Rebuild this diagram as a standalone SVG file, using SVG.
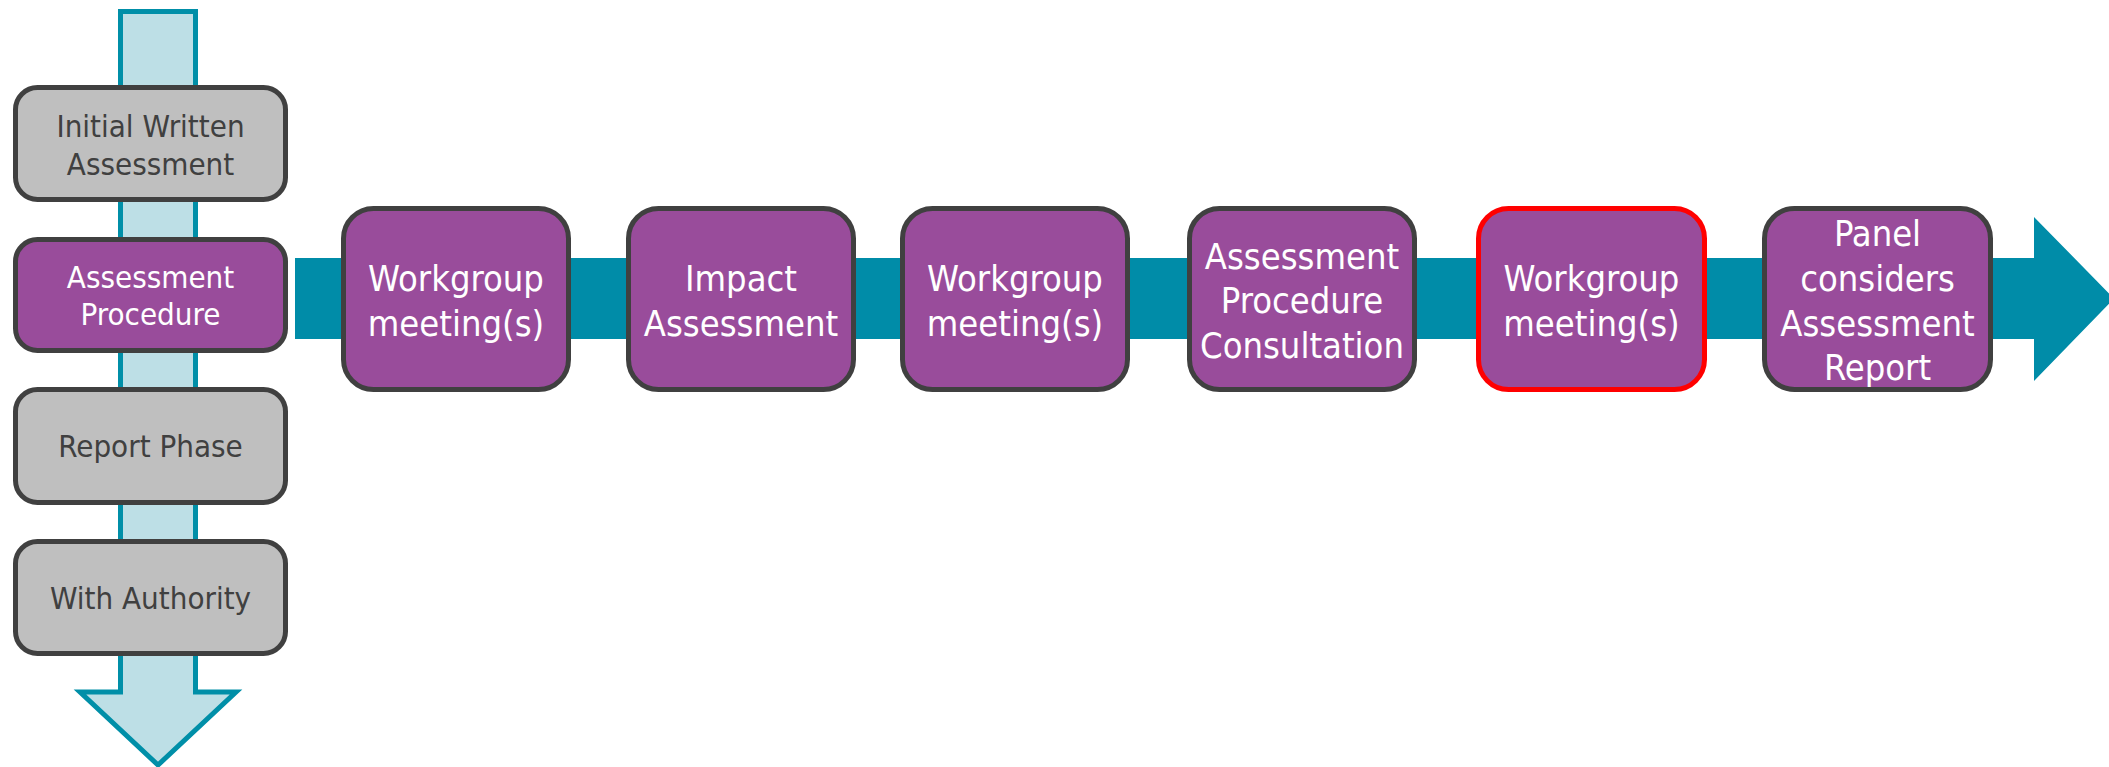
<svg xmlns="http://www.w3.org/2000/svg" width="2109" height="767" viewBox="0 0 2109 767">
  <style>
    .phase { fill: #bfbfbf; stroke: #404040; stroke-width: 5; }
    .phase-active { fill: #994c9b; stroke: #404040; stroke-width: 5; }
    .step { fill: #994c9b; stroke: #404040; stroke-width: 5; }
    .step-current { fill: #994c9b; stroke: #ff0000; stroke-width: 5; }
    .t { font-family: "DejaVu Sans Condensed", "DejaVu Sans", Tahoma, sans-serif; text-anchor: middle; }
    .t-dark { fill: #404040; font-size: 31px; }
    .t-light-s { fill: #ffffff; font-size: 31px; }
    .t-light { fill: #ffffff; font-size: 36px; }
  </style>

  <!-- connectors: vertical phase arrow and horizontal process arrow -->
  <g id="connectors">
    <path d="M120.5,11.5 H195.5 V692 H236 L158,765 L80,692 H120.5 Z" fill="#bddfe6" stroke="#008fa8" stroke-width="5" stroke-linejoin="miter"/>
    <path d="M295,258 H2034 V217 L2114,298.5 L2034,381 V339 H295 Z" fill="#008ca8"/>
  </g>

  <!-- phase column -->
  <g id="phase-initial">
    <rect class="phase" x="15.5" y="87.5" width="270" height="112" rx="22"/>
    <text class="t t-dark" x="150.5" y="137">Initial Written</text>
    <text class="t t-dark" x="150.5" y="175">Assessment</text>
  </g>
  <g id="phase-procedure">
    <rect class="phase-active" x="15.5" y="239.5" width="270" height="111" rx="22"/>
    <text class="t t-light-s" x="150.5" y="288">Assessment</text>
    <text class="t t-light-s" x="150.5" y="325">Procedure</text>
  </g>
  <g id="phase-report">
    <rect class="phase" x="15.5" y="389.5" width="270" height="113" rx="22"/>
    <text class="t t-dark" x="150.5" y="457">Report Phase</text>
  </g>
  <g id="phase-authority">
    <rect class="phase" x="15.5" y="541.5" width="270" height="112" rx="22"/>
    <text class="t t-dark" x="150.5" y="608.5">With Authority</text>
  </g>

  <!-- process steps -->
  <g id="step-workgroup-1">
    <rect class="step" x="343.5" y="208.5" width="225" height="181" rx="30"/>
    <text class="t t-light" x="456" y="291">Workgroup</text>
    <text class="t t-light" x="456" y="336">meeting(s)</text>
  </g>
  <g id="step-impact">
    <rect class="step" x="628.5" y="208.5" width="225" height="181" rx="30"/>
    <text class="t t-light" x="741" y="291">Impact</text>
    <text class="t t-light" x="741" y="336">Assessment</text>
  </g>
  <g id="step-workgroup-2">
    <rect class="step" x="902.5" y="208.5" width="225" height="181" rx="30"/>
    <text class="t t-light" x="1015" y="291">Workgroup</text>
    <text class="t t-light" x="1015" y="336">meeting(s)</text>
  </g>
  <g id="step-consultation">
    <rect class="step" x="1189.5" y="208.5" width="225" height="181" rx="30"/>
    <text class="t t-light" x="1302" y="268.5">Assessment</text>
    <text class="t t-light" x="1302" y="313">Procedure</text>
    <text class="t t-light" x="1302" y="357.5">Consultation</text>
  </g>
  <g id="step-workgroup-3">
    <rect class="step-current" x="1478.5" y="208.5" width="226" height="181" rx="30"/>
    <text class="t t-light" x="1591.5" y="291">Workgroup</text>
    <text class="t t-light" x="1591.5" y="336">meeting(s)</text>
  </g>
  <g id="step-panel">
    <rect class="step" x="1764.5" y="208.5" width="226" height="181" rx="30"/>
    <text class="t t-light" x="1877.5" y="246">Panel</text>
    <text class="t t-light" x="1877.5" y="290.5">considers</text>
    <text class="t t-light" x="1877.5" y="335.5">Assessment</text>
    <text class="t t-light" x="1877.5" y="380">Report</text>
  </g>
</svg>
